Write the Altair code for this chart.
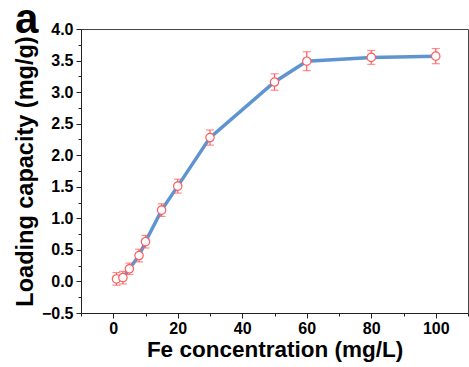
import altair as alt
import pandas as pd

fe = [1, 3, 5, 8, 10, 15, 20, 30, 50, 60, 80, 100]
cap = [0.04, 0.06, 0.20, 0.41, 0.63, 1.13, 1.51, 2.28, 3.16, 3.49, 3.55, 3.57]
err = [0.10, 0.10, 0.09, 0.10, 0.10, 0.10, 0.11, 0.12, 0.13, 0.15, 0.11, 0.12]

df = pd.DataFrame({"fe": fe, "cap": cap, "err": err})
df["lo"] = df["cap"] - df["err"]
df["hi"] = df["cap"] + df["err"]

panel = pd.DataFrame({"t": ["a"]})

FONT = "Liberation Sans"
RED = "#ff5c5c"
BLUE = "#5e95d0"

x_major = [0, 20, 40, 60, 80, 100]
x_minor = [-10, 10, 30, 50, 70, 90, 110]
y_major = [-0.5, 0.0, 0.5, 1.0, 1.5, 2.0, 2.5, 3.0, 3.5, 4.0]
y_minor = [-0.25, 0.25, 0.75, 1.25, 1.75, 2.25, 2.75, 3.25, 3.75]

xscale = alt.Scale(domain=[-10, 110], nice=False, zero=False)
yscale = alt.Scale(domain=[-0.5, 4.0], nice=False, zero=False)

common = dict(grid=False, domainColor="#222", tickColor="#222", tickWidth=1)

xaxis = alt.Axis(
    values=x_major, orient="bottom", format="d", labelOverlap=False, tickSize=5,
    title="Fe concentration (mg/L)",
    labelFont=FONT, labelFontWeight="bold", labelFontSize=16, labelColor="black",
    labelPadding=2,
    titleFont=FONT, titleFontWeight="bold", titleFontSize=22.5, titleColor="black",
    titlePadding=2, **common,
)
yaxis = alt.Axis(
    values=y_major, orient="left", format=".1f", labelOverlap=False, tickSize=5,
    title="Loading capacity (mg/g)",
    labelFont=FONT, labelFontWeight="bold", labelFontSize=16, labelColor="black",
    labelPadding=3,
    titleFont=FONT, titleFontWeight="bold", titleFontSize=23.5, titleColor="black",
    titlePadding=4, **common,
)
xaxis_minor = alt.Axis(values=x_minor, orient="bottom", labels=False, title=None,
                       tickSize=3, domain=False, **common)
yaxis_minor = alt.Axis(values=y_minor, orient="left", labels=False, title=None,
                       tickSize=3, domain=False, **common)

base = alt.Chart(df)

line = base.mark_line(color=BLUE, strokeWidth=3.5).encode(
    x=alt.X("fe:Q", scale=xscale, axis=xaxis),
    y=alt.Y("cap:Q", scale=yscale, axis=yaxis),
)
bars = base.mark_rule(color=RED, strokeWidth=1.2).encode(
    x=alt.X("fe:Q", scale=xscale, axis=xaxis_minor),
    y=alt.Y("lo:Q", scale=yscale, axis=yaxis_minor),
    y2="hi:Q",
)
cap_lo = base.mark_tick(color=RED, thickness=1.2, size=8, orient="horizontal").encode(
    x=alt.X("fe:Q", scale=xscale, axis=None),
    y=alt.Y("lo:Q", scale=yscale, axis=None),
)
cap_hi = base.mark_tick(color=RED, thickness=1.2, size=8, orient="horizontal").encode(
    x=alt.X("fe:Q", scale=xscale, axis=None),
    y=alt.Y("hi:Q", scale=yscale, axis=None),
)
pts = base.mark_point(shape="circle", size=70, filled=False, fill="white",
                      fillOpacity=1, color=RED, strokeWidth=1.2, opacity=1).encode(
    x=alt.X("fe:Q", scale=xscale, axis=None),
    y=alt.Y("cap:Q", scale=yscale, axis=None),
)
label = alt.Chart(panel).mark_text(
    font=FONT, fontWeight="bold", fontSize=42, color="black",
    align="left", baseline="alphabetic",
).encode(text="t:N", x=alt.value(-66), y=alt.value(4))

chart = alt.layer(line, bars, cap_lo, cap_hi, pts, label).resolve_axis(
    x="independent", y="independent"
).properties(
    width=387, height=284,
    autosize=alt.AutoSizeParams(type="none"),
    padding={"left": 81, "top": 29, "right": 1, "bottom": 54},
).configure_view(stroke="#444", strokeWidth=1)

chart.save("out.html", embed_options={"renderer": "svg", "actions": False})
